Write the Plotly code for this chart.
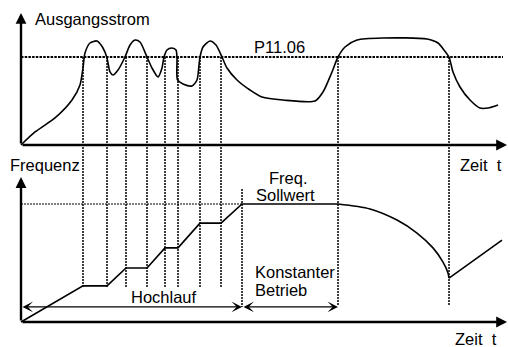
import plotly.graph_objects as go

# ---- data: time in arbitrary units, output current in % of P11.06, frequency in Hz ----
t_current = [0, 14, 34, 51, 59, 62, 64, 69, 76, 82, 86, 89, 92, 97, 104, 109, 114, 119,
             126, 131, 137, 141, 143, 146, 151, 155, 156, 156.5, 162, 171, 176, 178, 179,
             182, 189, 195, 201, 206, 216, 229, 241, 262, 294, 302, 311, 317, 324, 336,
             362, 406, 417, 423, 428, 432, 439, 449, 459, 467, 477]
i_current = [0, 14.8, 30.7, 51.1, 68.2, 87.5, 104.5, 115.9, 118.2, 110.2, 98.9, 83.0, 79.5,
             85.2, 100, 113.6, 119.3, 117.0, 100, 87.5, 77.3, 87.5, 100, 108.0, 110.2, 108.0,
             98.9, 73.9, 69.3, 67.0, 73.9, 90.9, 100, 111.4, 118.2, 113.6, 100, 87.5, 73.9,
             62.5, 54.5, 51.1, 50, 60.2, 83.0, 100, 111.4, 119.3, 121.6, 120.5, 115.9, 108.0,
             100, 83.0, 65.9, 51.1, 42.0, 42.0, 45.5]

# acceleration with hold steps, then constant operation at the set value
t_ramp = [0, 62, 86, 105, 126, 144, 157, 179, 200, 221, 317]
f_ramp = [0, 15.3, 15.3, 22.9, 22.9, 31.4, 31.4, 41.9, 41.9, 50, 50]
# frequency reduction while the current stays above P11.06
t_drop = [317, 349, 376, 396, 412, 422, 427, 428]
f_drop = [50, 47.9, 43.2, 37.7, 31.4, 25.4, 20.8, 18.6]
# re-acceleration
t_rise = [428, 481]
f_rise = [18.6, 34.7]

# instants where the current crosses P11.06
t_cross = [62, 86, 105, 126, 144, 157, 179, 200]
t_ramp_end = 221
t_const_end = 317
t_limit_end = 428

I_LIMIT = 100.0   # P11.06
F_SET = 50.0      # Freq. Sollwert

# ---- layout geometry ----
W, H = 508, 347
T_ORIGIN_PX = 21
I_ZERO_PX, I_REF_PX = 145, 57
F_ZERO_PX, F_REF_PX = 322, 204


def axis_range(zero_px, ref_px, ref_val):
    per_px = ref_val / (zero_px - ref_px)
    return [(zero_px - H) * per_px, zero_px * per_px]


def i_to_f(i):
    px = I_ZERO_PX - i / I_LIMIT * (I_ZERO_PX - I_REF_PX)
    return (F_ZERO_PX - px) / (F_ZERO_PX - F_REF_PX) * F_SET


FONT = dict(family="Arial, Liberation Sans, sans-serif", size=16.5, color="black")
DOTS = "2px,1px"

fig = go.Figure()

# current threshold P11.06
fig.add_trace(go.Scatter(x=[0, 482], y=[I_LIMIT, I_LIMIT], mode="lines", yaxis="y",
                         line=dict(color="black", width=2, dash="2.5px,1.2px")))
# output current
fig.add_trace(go.Scatter(x=t_current, y=i_current, mode="lines", yaxis="y",
                         line=dict(color="black", width=1.6, shape="spline", smoothing=0.7)))

# guide lines from current crossings down to the frequency diagram
for tc in t_cross:
    fig.add_trace(go.Scatter(x=[tc, tc], y=[i_to_f(I_LIMIT), 14.6], mode="lines", yaxis="y2",
                             line=dict(color="black", width=1.5, dash=DOTS)))
for tc in (t_const_end, t_limit_end):
    fig.add_trace(go.Scatter(x=[tc, tc], y=[i_to_f(I_LIMIT), 7.2], mode="lines", yaxis="y2",
                             line=dict(color="black", width=1.5, dash=DOTS)))
fig.add_trace(go.Scatter(x=[t_ramp_end, t_ramp_end], y=[56.4, 6.4], mode="lines", yaxis="y2",
                         line=dict(color="black", width=1.5, dash=DOTS)))
# set value reference
fig.add_trace(go.Scatter(x=[0, t_ramp_end], y=[F_SET, F_SET], mode="lines", yaxis="y2",
                         line=dict(color="black", width=1.2, dash=DOTS)))

# frequency
fig.add_trace(go.Scatter(x=t_ramp, y=f_ramp, mode="lines", yaxis="y2",
                         line=dict(color="black", width=1.6)))
fig.add_trace(go.Scatter(x=t_drop, y=f_drop, mode="lines", yaxis="y2",
                         line=dict(color="black", width=1.6, shape="spline", smoothing=0.8)))
fig.add_trace(go.Scatter(x=t_rise, y=f_rise, mode="lines", yaxis="y2",
                         line=dict(color="black", width=1.6)))

x_end = W - T_ORIGIN_PX - 1
ann = []


def arrow(x0, y0, x1, y1, yref, width, head, size, both=False):
    d = dict(x=x1, y=y1, ax=x0, ay=y0, xref="x", yref=yref, axref="x", ayref=yref,
             text="", showarrow=True, arrowhead=head, arrowsize=size, arrowwidth=width,
             arrowcolor="black", standoff=0, startstandoff=0)
    if both:
        d.update(arrowside="end+start", startarrowhead=head, startarrowsize=size)
    ann.append(d)


# axes of both diagrams
arrow(0, 0, 0, 150, "y", 2.4, 2, 0.9)
arrow(0, 0, x_end, 0, "y", 2.4, 2, 0.9)
arrow(0, 0, 0, 61.4, "y2", 2.4, 2, 0.9)
arrow(0, 0, x_end, 0, "y2", 2.4, 2, 0.9)
# phase dimension arrows
arrow(0, 6.4, t_ramp_end, 6.4, "y2", 1.1, 3, 1.6, both=True)
arrow(t_ramp_end, 6.4, t_const_end, 6.4, "y2", 1.1, 3, 1.6, both=True)


def label(text, x, y, yref, xanchor="left"):
    ann.append(dict(text=text, x=x, y=y, xref="x", yref=yref, showarrow=False,
                    xanchor=xanchor, yanchor="middle", font=FONT))


label("Ausgangsstrom", 12, 143.2, "y")
label("P11.06", 231, 111.4, "y")
label("Zeit\u00a0\u00a0t", 437, -22.7, "y")
label("Frequenz", -13, 66.5, "y2")
label("Freq.", 267, 61.0, "y2", "center")
label("Sollwert", 264, 53.8, "y2", "center")
label("Hochlauf", 142.5, 10.6, "y2", "center")
label("Konstanter", 232, 21.2, "y2")
label("Betrieb", 232, 13.6, "y2")
label("Zeit\u00a0\u00a0t", 432, -7.0, "y2")

hidden = dict(visible=False, showgrid=False, zeroline=False, fixedrange=True)
fig.update_layout(
    width=W, height=H, margin=dict(l=0, r=0, t=0, b=0),
    paper_bgcolor="white", plot_bgcolor="white", showlegend=False,
    xaxis=dict(range=[-T_ORIGIN_PX, W - T_ORIGIN_PX], domain=[0, 1], **hidden),
    yaxis=dict(range=axis_range(I_ZERO_PX, I_REF_PX, I_LIMIT), domain=[0, 1], **hidden),
    yaxis2=dict(range=axis_range(F_ZERO_PX, F_REF_PX, F_SET), domain=[0, 1],
                overlaying="y", **hidden),
    annotations=ann,
)

fig.write_html("out.html")
